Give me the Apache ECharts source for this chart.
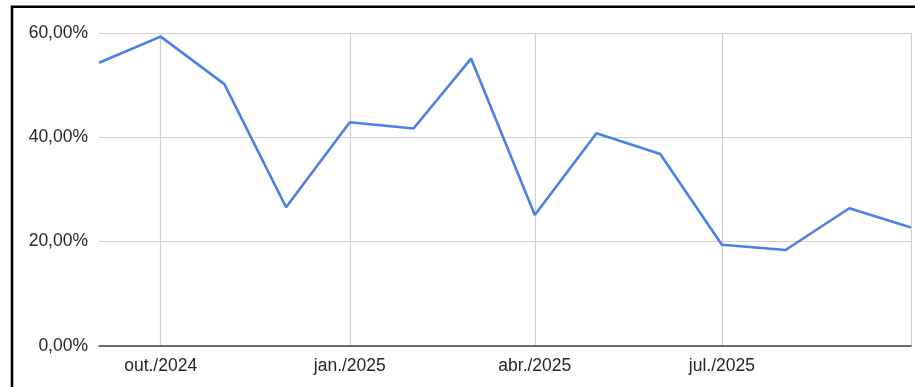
<!DOCTYPE html>
<html>
<head>
<meta charset="utf-8">
<script src="https://cdn.jsdelivr.net/npm/echarts@6/dist/echarts.min.js"></script>
<style>
html,body{margin:0;padding:0;background:#fff;}
#chart{width:915px;height:387px;}
</style>
</head>
<body>
<div id="chart"></div>
<script>
const months = ['2024-09-01','2024-10-01','2024-11-01','2024-12-01','2025-01-01','2025-02-01','2025-03-01','2025-04-01','2025-05-01','2025-06-01','2025-07-01','2025-08-01','2025-09-01','2025-10-01'];
const values = [54.3, 59.3, 50.2, 26.6, 42.9, 41.7, 55.1, 25.1, 40.8, 36.8, 19.4, 18.4, 26.4, 22.7];
const tickDates = ['2024-10-01','2025-01-01','2025-04-01','2025-07-01','2025-10-01'];
const tickLabels = ['out./2024','jan./2025','abr./2025','jul./2025',''];
const yTicks = [0, 20, 40, 60];

const ts = d => new Date(d + 'T00:00:00Z').getTime();
const tickTs = tickDates.map(ts);
const labelMap = {};
tickTs.forEach((t, i) => { labelMap[t] = tickLabels[i]; });

const chart = echarts.init(document.getElementById('chart'), null, {renderer: 'canvas'});
chart.setOption({
  animation: false,
  backgroundColor: '#ffffff',
  grid: {left: 99, right: 4, top: 33, bottom: 41, containLabel: false},
  xAxis: {
    type: 'value',
    min: ts(months[0]),
    max: ts(months[months.length - 1]),
    axisLine: {show: true, onZero: false, lineStyle: {color: '#444444', width: 1.6}},
    axisTick: {show: false, customValues: tickTs},
    axisLabel: {
      customValues: tickTs,
      formatter: v => labelMap[v] !== undefined ? labelMap[v] : '',
      color: '#262626',
      fontFamily: 'Liberation Sans, Arial, sans-serif',
      fontSize: 17.5,
      margin: 11,
      showMinLabel: true,
      showMaxLabel: true,
      hideOverlap: false
    },
    splitLine: {show: true, lineStyle: {color: '#cfcfcf', width: 1.2}}
  },
  yAxis: {
    type: 'value',
    min: yTicks[0],
    max: yTicks[yTicks.length - 1],
    interval: 20,
    axisLine: {show: false},
    axisTick: {show: false},
    axisLabel: {
      formatter: v => v.toFixed(2).replace('.', ',') + '%',
      color: '#262626',
      fontFamily: 'Liberation Sans, Arial, sans-serif',
      fontSize: 17.5,
      margin: 11
    },
    splitLine: {show: true, lineStyle: {color: '#cfcfcf', width: 1.2}}
  },
  graphic: [{
    type: 'rect',
    shape: {x: 12, y: 6.7, width: 920, height: 400},
    style: {fill: 'none', stroke: '#000000', lineWidth: 2.6},
    silent: true,
    z: 100
  }],
  series: [{
    type: 'line',
    data: months.map((m, i) => [ts(m), values[i]]),
    showSymbol: false,
    symbol: 'none',
    lineStyle: {color: '#4a80e8', width: 2.6},
    itemStyle: {color: '#4a80e8'},
    z: 10
  }]
});
</script>
</body>
</html>
